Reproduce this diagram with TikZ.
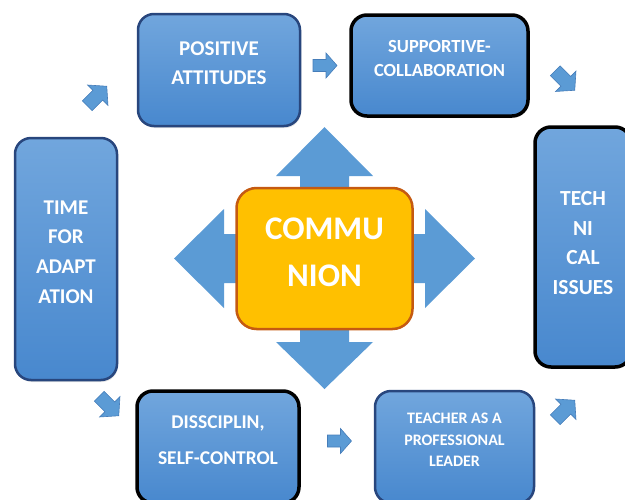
\documentclass[tikz,border=0pt]{standalone}
\usepackage{fontspec}
\setmainfont{Carlito}
\usetikzlibrary{shadows}

\definecolor{boxtop}{RGB}{113,166,221}
\definecolor{boxbot}{RGB}{72,136,206}
\definecolor{navy}{RGB}{40,70,125}
\definecolor{arrblue}{RGB}{91,155,213}
\definecolor{arredge}{RGB}{70,125,185}
\definecolor{gold}{RGB}{255,192,0}
\definecolor{rust}{RGB}{197,90,17}

\tikzset{
  bluebox/.style={rectangle, rounded corners=16pt, top color=boxtop, bottom color=boxbot,
    text=white, align=center, inner sep=0pt, text depth=14pt,
    drop shadow={opacity=0.2, shadow xshift=1pt, shadow yshift=-2pt}},
  navyline/.style={draw=navy, line width=2.5pt},
  blackline/.style={draw=black, line width=3.5pt},
  smallarrow/.pic={
    \filldraw[fill=arrblue, draw=arredge, line width=0.6pt]
      (-12,-6) -- (1,-6) -- (1,-12.5) -- (12,0) -- (1,12.5) -- (1,6) -- (-12,6) -- cycle;
  }
}

\begin{document}
\begin{tikzpicture}[x=1pt, y=-1pt]
  \useasboundingbox (0,0) rectangle (625,499);
  \clip (0,0) rectangle (625,499);

  % outer ring of boxes
  \node[bluebox, navyline, minimum width=162pt, minimum height=112pt,
        font=\bfseries\fontsize{21}{29}\selectfont] (pos) at (219,70) {POSITIVE\\ATTITUDES};
  \node[bluebox, blackline, minimum width=177pt, minimum height=101pt,
        font=\bfseries\fontsize{18.5}{24}\selectfont] (sup) at (439.5,65.5) {SUPPORTIVE-\\COLLABORATION};
  \node[bluebox, blackline, minimum width=96pt, minimum height=240pt, text depth=8pt,
        font=\bfseries\fontsize{21.5}{29.5}\selectfont] (tech) at (583,247) {TECH\\NI\\CAL\\ISSUES};
  \node[bluebox, navyline, minimum width=102pt, minimum height=242pt,
        font=\bfseries\fontsize{21}{29.7}\selectfont] (time) at (66,259) {TIME\\FOR\\ADAPT\\ATION};
  \node[bluebox, blackline, minimum width=162pt, minimum height=112pt,
        font=\bfseries\fontsize{19.5}{36}\selectfont] (dis) at (218,447) {DISSCIPLIN,\\SELF-CONTROL};
  \node[bluebox, navyline, minimum width=159pt, minimum height=112pt,
        font=\bfseries\fontsize{16}{21.5}\selectfont] (teach) at (454.5,447) {TEACHER AS A\\PROFESSIONAL\\LEADER};

  % four-way arrow behind the centre
  \coordinate (c) at (324.5,258.5);
  \fill[arrblue, shift={(c)}]
    (0,-131.5) -- (48.5,-82.5) -- (24.5,-82.5) -- (24.5,-24.5) -- (100.5,-24.5) -- (100.5,-49.5)
    -- (150.5,0) -- (100.5,49.5) -- (100.5,24.5) -- (24.5,24.5) -- (24.5,83.5) -- (48.5,83.5)
    -- (0,130.5) -- (-48.5,83.5) -- (-24.5,83.5) -- (-24.5,24.5) -- (-100.5,24.5) -- (-100.5,49.5)
    -- (-150.5,0) -- (-100.5,-49.5) -- (-100.5,-24.5) -- (-24.5,-24.5) -- (-24.5,-82.5) -- (-48.5,-82.5)
    -- cycle;

  \node[rectangle, rounded corners=20pt, fill=gold, draw=rust, line width=2.5pt,
        minimum width=176pt, minimum height=141pt, inner sep=0pt, text depth=12pt,
        text=white, align=center, font=\bfseries\fontsize{33}{47}\selectfont]
        (com) at (c) {COMMU\\NION};

  % small block arrows between the boxes
  \pic[rotate=45, scale=1.15] at (97,96) {smallarrow};
  \pic at (325,65.5) {smallarrow};
  \pic[rotate=-45, scale=1.15] at (565,80.5) {smallarrow};
  \pic[rotate=-45, scale=1.15] at (109,406) {smallarrow};
  \pic at (339.5,441) {smallarrow};
  \pic[rotate=45, scale=1.15] at (565,410) {smallarrow};
\end{tikzpicture}
\end{document}
